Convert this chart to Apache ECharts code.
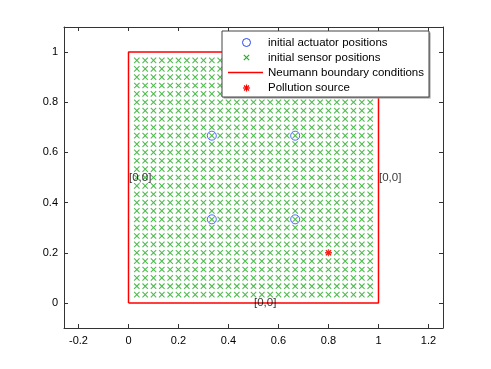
<!DOCTYPE html>
<html>
<head>
<meta charset="utf-8">
<script src="https://cdn.jsdelivr.net/npm/echarts@6/dist/echarts.min.js"></script>
<style>
  html, body { margin: 0; padding: 0; background: #fff; }
  #chart { width: 491px; height: 369px; }
</style>
</head>
<body>
<div id="chart"></div>
<script>
// grid of sensor coordinates (k/30, k = 1..29)
var sensorX = [0.0333, 0.0667, 0.1, 0.1333, 0.1667, 0.2, 0.2333, 0.2667, 0.3, 0.3333,
  0.3667, 0.4, 0.4333, 0.4667, 0.5, 0.5333, 0.5667, 0.6, 0.6333, 0.6667,
  0.7, 0.7333, 0.7667, 0.8, 0.8333, 0.8667, 0.9, 0.9333, 0.9667];
var sensorY = sensorX.slice();
var actuators = [[0.3333, 0.3333], [0.6667, 0.3333], [0.3333, 0.6667], [0.6667, 0.6667]];
var pollution = [[0.8, 0.2]];
var boundary = [[0, 0], [1, 0], [1, 1], [0, 1], [0, 0]];
var bcLabels = [[0.5, 0], [0, 0.5], [1, 0.5]];
var legendNames = ['initial actuator positions', 'initial sensor positions',
  'Neumann boundary conditions', 'Pollution source'];

var green = '#22aa22';
var font = 'Liberation Sans, Arial, Helvetica, sans-serif';

var sensors = [];
sensorX.forEach(function (x) {
  sensorY.forEach(function (y) { sensors.push([x, y]); });
});

var crossPath = 'path://M0,0L10,10M10,0L0,10';
var starPath = 'path://M5,0L5,10M0,5L10,5M1.5,1.5L8.5,8.5M8.5,1.5L1.5,8.5';

function tickFmt(v) {
  var r = Math.round(v * 5);
  if (Math.abs(v * 5 - r) > 1e-6) return '';
  return String(Math.round(v * 10) / 10);
}

var axisCommon = {
  type: 'value',
  splitLine: { show: false },
  axisLine: { show: true, onZero: false, lineStyle: { color: '#333', width: 1 } },
  axisTick: { show: true, inside: true, length: 4, lineStyle: { color: '#333' } },
  minInterval: 0.2,
  maxInterval: 0.2
};

function ax(extra) { return Object.assign({}, axisCommon, extra); }

function seg(x1, y1, x2, y2, color, w) {
  return { type: 'line', z: 102, shape: { x1: x1, y1: y1, x2: x2, y2: y2 },
    style: { stroke: color, lineWidth: w } };
}

// legend drawn by hand (mixed icon widths)
var lgX = 222, lgY = 31, lgW = 207, lgH = 66;
var rows = [42.5, 57.5, 72.5, 88];
var iconX = 246.5, textX = 268;
var legendGraphics = [
  { type: 'rect', shape: { x: lgX + 1.5, y: lgY + 1.5, width: lgW, height: lgH }, style: { fill: '#999' }, z: 100 },
  { type: 'rect', shape: { x: lgX, y: lgY, width: lgW, height: lgH }, style: { fill: '#fff', stroke: '#444', lineWidth: 1 }, z: 101 },
  { type: 'circle', shape: { cx: iconX, cy: rows[0], r: 4 }, style: { fill: 'none', stroke: '#2244ff', lineWidth: 1 }, z: 102 },
  seg(iconX - 2.7, rows[1] - 2.7, iconX + 2.7, rows[1] + 2.7, green, 1.1),
  seg(iconX + 2.7, rows[1] - 2.7, iconX - 2.7, rows[1] + 2.7, green, 1.1),
  seg(228, rows[2], 263, rows[2], '#ff0000', 1.5),
  seg(iconX, rows[3] - 3.5, iconX, rows[3] + 3.5, '#ff0000', 1.2),
  seg(iconX - 3.5, rows[3], iconX + 3.5, rows[3], '#ff0000', 1.2),
  seg(iconX - 2.5, rows[3] - 2.5, iconX + 2.5, rows[3] + 2.5, '#ff0000', 1.2),
  seg(iconX + 2.5, rows[3] - 2.5, iconX - 2.5, rows[3] + 2.5, '#ff0000', 1.2)
];
legendNames.forEach(function (name, i) {
  legendGraphics.push({
    type: 'text', x: textX, y: rows[i], z: 102,
    style: { text: name, fill: '#000', font: '11.5px ' + font, verticalAlign: 'middle' }
  });
});

var chart = echarts.init(document.getElementById('chart'), null, { renderer: 'canvas' });
chart.setOption({
  animation: false,
  backgroundColor: '#fff',
  textStyle: { fontFamily: font },
  grid: { left: 64, right: 48, top: 27, bottom: 41 },
  xAxis: [
    ax({ position: 'bottom', min: -0.258, max: 1.258,
      axisLabel: { formatter: tickFmt, color: '#000', fontSize: 11, margin: 7, fontFamily: font } }),
    ax({ position: 'top', min: -0.258, max: 1.258, axisLabel: { show: false } })
  ],
  yAxis: [
    ax({ position: 'left', min: -0.1, max: 1.1,
      axisLabel: { formatter: tickFmt, color: '#000', fontSize: 11, margin: 6, fontFamily: font } }),
    ax({ position: 'right', min: -0.1, max: 1.1, axisLabel: { show: false } })
  ],
  graphic: legendGraphics,
  series: [
    {
      name: 'initial sensor positions', type: 'scatter', data: sensors,
      symbol: crossPath, symbolSize: 5.4,
      itemStyle: { color: 'none', borderColor: green, borderWidth: 1.1 },
      emphasis: { disabled: true }, z: 3
    },
    {
      name: 'Neumann boundary conditions', type: 'line', data: boundary,
      showSymbol: false, symbol: 'none',
      lineStyle: { color: '#ff0000', width: 1.5 }, z: 2
    },
    {
      name: 'initial actuator positions', type: 'scatter', data: actuators,
      symbol: 'circle', symbolSize: 9,
      itemStyle: { color: 'none', borderColor: '#2244ff', borderWidth: 1 }, z: 4
    },
    {
      name: 'Pollution source', type: 'scatter', data: pollution,
      symbol: starPath, symbolSize: 7,
      itemStyle: { color: 'none', borderColor: '#ff0000', borderWidth: 1.3 }, z: 4
    },
    {
      name: 'bc labels', type: 'scatter', data: bcLabels,
      symbol: 'circle', symbolSize: 1,
      itemStyle: { color: 'rgba(0,0,0,0)' },
      label: { show: true, position: 'right', distance: 0, formatter: '[0,0]',
        color: '#000', fontSize: 11.5, fontFamily: font },
      emphasis: { disabled: true },
      z: 5
    }
  ]
});
</script>
</body>
</html>
